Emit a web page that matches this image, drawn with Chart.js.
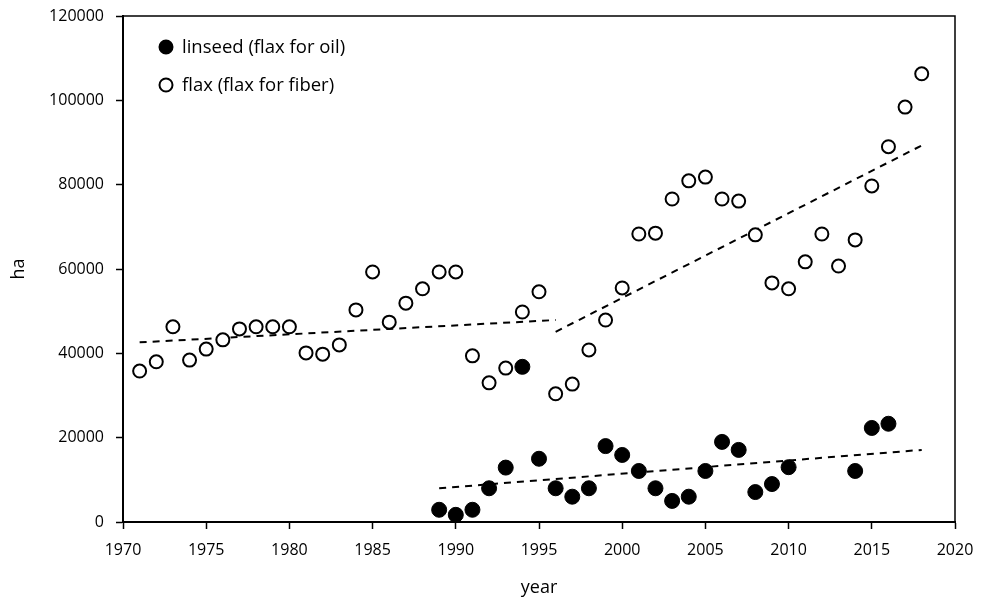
<!DOCTYPE html>
<html>
<head>
<meta charset="utf-8">
<script src="https://cdn.jsdelivr.net/npm/chart.js@4"></script>
<style>
  html, body { margin: 0; padding: 0; background: #fff; }
  #wrap { width: 982px; height: 603px; }
</style>
</head>
<body>
<div id="wrap"><canvas id="flax-chart" width="982" height="603"></canvas></div>
<script>
// area harvested, ha
const flaxYears = [1971, 1972, 1973, 1974, 1975, 1976, 1977, 1978, 1979, 1980,
  1981, 1982, 1983, 1984, 1985, 1986, 1987, 1988, 1989, 1990,
  1991, 1992, 1993, 1994, 1995, 1996, 1997, 1998, 1999, 2000,
  2001, 2002, 2003, 2004, 2005, 2006, 2007, 2008, 2009, 2010,
  2011, 2012, 2013, 2014, 2015, 2016, 2017, 2018];
const flaxArea = [35800, 38000, 46300, 38400, 41000, 43200, 45800, 46300, 46300, 46300,
  40100, 39800, 42000, 50300, 59300, 47400, 51900, 55300, 59300, 59300,
  39400, 33000, 36500, 49800, 54600, 30400, 32700, 40800, 47900, 55500,
  68300, 68500, 76600, 80900, 81800, 76600, 76100, 68100, 56700, 55300,
  61700, 68300, 60700, 66900, 79700, 89000, 98400, 106300];

const linseedYears = [1989, 1990, 1991, 1992, 1993, 1994, 1995, 1996, 1997, 1998,
  1999, 2000, 2001, 2002, 2003, 2004, 2005, 2006, 2007, 2008,
  2009, 2010, 2014, 2015, 2016];
const linseedArea = [2900, 1700, 2900, 8000, 12900, 36800, 15000, 8000, 6000, 8000,
  18000, 15900, 12100, 8000, 5000, 6000, 12100, 19000, 17100, 7100,
  9000, 13000, 12100, 22300, 23300];

// trend lines (end points)
const flaxTrend1Years = [1971, 1996];
const flaxTrend1Area = [42600, 47900];
const flaxTrend2Years = [1996, 2018];
const flaxTrend2Area = [45100, 89300];
const linseedTrendYears = [1989, 2018];
const linseedTrendArea = [8000, 17100];

const xTicks = [1970, 1975, 1980, 1985, 1990, 1995, 2000, 2005, 2010, 2015, 2020];
const yTicks = [0, 20000, 40000, 60000, 80000, 100000, 120000];

const pairs = (xs, ys) => xs.map((x, i) => ({ x: x, y: ys[i] }));

const font = "'Open Sans', sans-serif";

const trendStyle = {
  type: 'line',
  borderColor: '#000',
  borderWidth: 2,
  borderDash: [7, 6],
  pointRadius: 0,
  fill: false,
  legend: false
};

// black frame on top and right side
const framePlugin = {
  id: 'frame',
  afterDraw(chart) {
    const a = chart.chartArea;
    const ctx = chart.ctx;
    ctx.save();
    ctx.strokeStyle = '#000';
    ctx.lineWidth = 1.5;
    ctx.beginPath();
    ctx.moveTo(a.left, a.top);
    ctx.lineTo(a.right, a.top);
    ctx.lineTo(a.right, a.bottom);
    ctx.stroke();
    ctx.restore();
  }
};

// legend inside the plot, top left
const innerLegend = {
  id: 'innerLegend',
  afterDraw(chart) {
    const ctx = chart.ctx;
    const items = chart.data.datasets.filter(d => d.legend !== false);
    ctx.save();
    ctx.font = '18.5px ' + font;
    ctx.textBaseline = 'middle';
    items.forEach((d, i) => {
      const y = 47 + i * 38;
      ctx.beginPath();
      ctx.arc(166, y, 6.5, 0, Math.PI * 2);
      ctx.fillStyle = d.backgroundColor;
      ctx.fill();
      ctx.lineWidth = 2;
      ctx.strokeStyle = '#000';
      ctx.stroke();
      ctx.fillStyle = '#000';
      ctx.fillText(d.label, 182, y + 1);
    });
    ctx.restore();
  }
};

new Chart(document.getElementById('flax-chart'), {
  type: 'scatter',
  data: {
    datasets: [
      {
        label: 'linseed (flax for oil)',
        data: pairs(linseedYears, linseedArea),
        backgroundColor: '#000',
        borderColor: '#000',
        borderWidth: 1,
        pointRadius: 7.5
      },
      {
        label: 'flax (flax for fiber)',
        data: pairs(flaxYears, flaxArea),
        backgroundColor: '#fff',
        borderColor: '#000',
        borderWidth: 2,
        pointRadius: 6.5
      },
      Object.assign({ data: pairs(flaxTrend1Years, flaxTrend1Area) }, trendStyle),
      Object.assign({ data: pairs(flaxTrend2Years, flaxTrend2Area) }, trendStyle),
      Object.assign({ data: pairs(linseedTrendYears, linseedTrendArea) }, trendStyle)
    ]
  },
  options: {
    responsive: false,
    animation: false,
    layout: { padding: { top: 16, right: 27, left: 0, bottom: 0 } },
    plugins: {
      legend: { display: false },
      tooltip: { enabled: false }
    },
    scales: {
      x: {
        type: 'linear',
        min: 1970,
        max: 2020,
        afterBuildTicks: s => { s.ticks = xTicks.map(v => ({ value: v })); },
        afterFit: s => { s.height = 81; s.paddingLeft = 0; s.paddingRight = 0; },
        grid: { drawOnChartArea: false, tickLength: 7, tickColor: '#000', tickWidth: 1.5 },
        border: { display: true, color: '#000', width: 2 },
        ticks: { color: '#000', font: { family: font, size: 16 }, padding: 12, maxRotation: 0, callback: v => String(v) },
        title: { display: true, text: 'year', color: '#000', font: { family: font, size: 18 }, padding: { top: 0, bottom: 4 } }
      },
      y: {
        min: 0,
        max: 120000,
        afterBuildTicks: s => { s.ticks = yTicks.map(v => ({ value: v })); },
        afterFit: s => { s.width = 123; s.paddingTop = 0; s.paddingBottom = 0; },
        grid: { drawOnChartArea: false, tickLength: 7, tickColor: '#000', tickWidth: 1.5 },
        border: { display: true, color: '#000', width: 2 },
        ticks: { color: '#000', font: { family: font, size: 16 }, padding: 12, callback: v => String(v) },
        title: { display: true, text: 'ha', color: '#000', font: { family: font, size: 18 }, padding: { top: 8, bottom: 0 } }
      }
    }
  },
  plugins: [framePlugin, innerLegend]
});
</script>
</body>
</html>
